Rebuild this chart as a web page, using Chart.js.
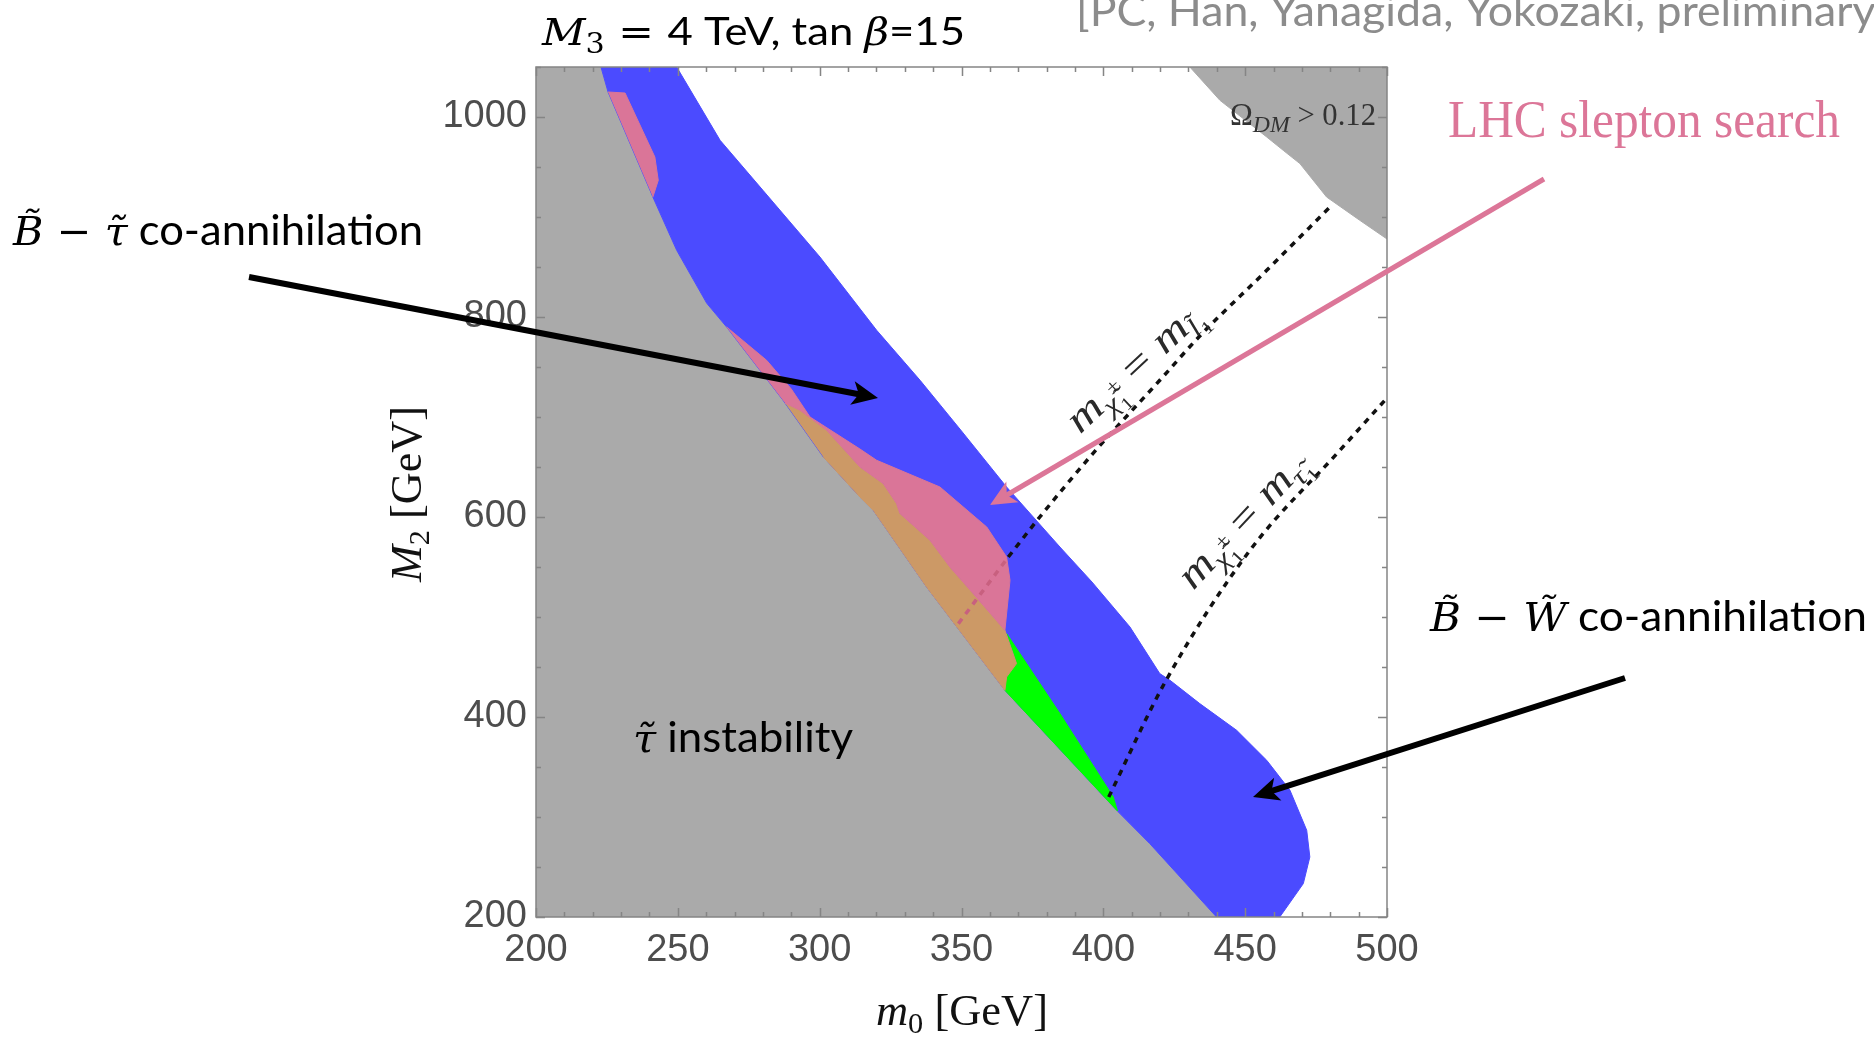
<!DOCTYPE html>
<html>
<head>
<meta charset="utf-8">
<script src="https://cdn.jsdelivr.net/npm/chart.js@4.4.0/dist/chart.umd.min.js"></script>
<style>
html,body{margin:0;padding:0;background:#fff;overflow:hidden}
#wrap{width:1874px;height:1038px;position:relative;background:#fff}
canvas{display:block}
</style>
</head>
<body>
<div id="wrap"><canvas id="c" width="1874" height="1038"></canvas></div>
<script>
// ---------------- data (GeV) ----------------
const m0Range = [200, 500];
const M2Range = [200, 1050];
const xTickLabels = [200, 250, 300, 350, 400, 450, 500];
const yTickLabels = [200, 400, 600, 800, 1000];

// edge of the stau-instability region (m0, M2), top to bottom
const stauBoundary = [[222.9,1050],[225.4,1025],[241.2,920],[249.6,866.7],[260.2,813.7],[267.2,790],[287.1,716.7],[301.3,660],[314.2,620],[318.9,606.7],[337.7,530],[365.3,426.7],[404.7,306.7],[416.4,273.3],[439.9,200]];
// outer edge of the relic-density band (blue), top to bottom
const relicBandEdge = [[249.6,1050],[264.9,976.7],[280,926.7],[300.1,860],[320.1,786.7],[335.4,736.7],[350,686],[365.9,630],[384.7,570],[396,535],[409.4,490],[419.9,443.4],[423.5,436.7],[434,413.4],[447,386.7],[457.6,356.7],[465.8,326.7],[471.7,286.7],[472.8,260],[470.5,233.4],[462.2,200]];
// Omega_DM > 0.12 region (top right)
const overabundant = [[430.5,1050],[441.1,1016.7],[457.6,980],[463.4,966.7],[469.3,953.4],[478.7,920],[490.4,896.7],[500,878],[500,1050]];
// LHC slepton search exclusion (pink)
const lhcUpper = [[225.4,1025],[231.4,1024],[241.9,960],[243.1,936.7],[241.2,920]];
const lhcLower = [[267.2,790],[281.3,756.7],[290,728],[296.6,700],[314.2,668],[320.1,656.7],[342.4,630],[358.9,590],[365.9,560],[367.1,536.7],[365.3,486.7],[354.1,523.4],[345.9,550],[338.9,576.7],[328.3,603.4],[327.1,613.4],[322.4,633.4],[314.2,650],[302.5,686.7],[293.1,706.7],[287.8,714]];
// orange region
const orangeRegion = [[287.8,714],[293.1,706.7],[302.5,686.7],[314.2,650],[322.4,633.4],[327.1,613.4],[328.3,603.4],[338.9,576.7],[345.9,550],[354.1,523.4],[365.3,486.7],[369.4,453.4],[365.9,440],[365.3,426.7],[337.7,530],[318.9,606.7],[314.2,620],[301.3,660]];
// green region
const greenRegion = [[365.9,483.4],[384.7,403.4],[403.5,320],[405,306],[365.3,426.7],[365.9,440],[369.4,453.4]];
// m_chargino = m_slepton line
const lineSleptonInside = [[348.9,493.4],[366.5,560]];
const lineSlepton = [[366.5,560],[377.6,600],[396.3,663.4],[419.9,736.7],[434,781],[457.6,846.7],[479.9,910]];
// m_chargino = m_stau line
const lineStau = [[401.9,320],[421.8,435],[451.7,566.7],[483.4,666.7],[499.5,717.5]];

// ---------------- styles ----------------
const C = {gray:'#aaaaaa', blue:'#4b4bff', pink:'#da7598', orange:'#cc9966', green:'#00ff00', pinkText:'#dc7698'};

const toXY = a => a.map(p => ({x:p[0], y:p[1]}));
const poly = (pts, color, order) => ({data: toXY(pts), showLine:true, fill:'shape', backgroundColor:color, borderColor:color, borderWidth:1, pointRadius:0, tension:0, order});
const dashed = (pts, color, order) => ({data: toXY(pts), showLine:true, fill:false, borderColor:color, borderWidth:3.5, borderDash:[6,6], pointRadius:0, cubicInterpolationMode:'monotone', order});

const grayPoly = [[m0Range[0], M2Range[1]], ...stauBoundary, [m0Range[0], M2Range[0]]];
const bluePoly = [...relicBandEdge, ...stauBoundary.slice().reverse()];

// ---------------- rich text helper ----------------
function layoutRuns(ctx, runs){
  let x = 0, stackW = 0; const items = [];
  for (const r of runs){
    ctx.font = r.f; const w = ctx.measureText(r.t).width;
    items.push({r, x});
    if (r.keep) stackW = Math.max(stackW, w);
    else { x += Math.max(w, stackW); stackW = 0; }
  }
  return {items, width:x};
}
function drawRich(ctx, runs, x, y, o){
  o = o || {};
  const L = layoutRuns(ctx, runs);
  const sx = o.width ? o.width / L.width : 1;
  ctx.save();
  ctx.translate(x, y);
  if (o.angle) ctx.rotate(o.angle);
  if (o.align === 'center') ctx.translate(-L.width*sx/2, 0);
  ctx.scale(sx, 1);
  ctx.textBaseline = 'alphabetic'; ctx.textAlign = 'left';
  for (const it of L.items){
    ctx.font = it.r.f; ctx.fillStyle = it.r.c || o.color || '#000';
    ctx.fillText(it.r.t, it.x, it.r.dy || 0);
  }
  ctx.restore();
}
function arrow(ctx, x1, y1, x2, y2, color, lw, hl, hw){
  const a = Math.atan2(y2-y1, x2-x1), ca = Math.cos(a), sa = Math.sin(a);
  const bx = x2 - hl*ca, by = y2 - hl*sa;
  ctx.save();
  ctx.strokeStyle = color; ctx.fillStyle = color; ctx.lineWidth = lw; ctx.lineCap = 'butt';
  ctx.beginPath(); ctx.moveTo(x1, y1); ctx.lineTo(bx + 0.3*hl*ca, by + 0.3*hl*sa); ctx.stroke();
  ctx.beginPath(); ctx.moveTo(x2, y2);
  ctx.lineTo(bx - hw*sa, by + hw*ca);
  ctx.lineTo(bx + 0.25*hl*ca, by + 0.25*hl*sa);
  ctx.lineTo(bx + hw*sa, by - hw*ca);
  ctx.closePath(); ctx.fill();
  ctx.restore();
}

const SERIF = '"DejaVu Serif"', TIMES = '"Liberation Serif"', SANS = 'Lato';

const framePlugin = {
  id: 'frame',
  afterDatasetsDraw(chart){
    const {ctx, chartArea:a, scales:{x, y}} = chart;
    ctx.save();
    ctx.strokeStyle = '#858585'; ctx.lineWidth = 1.5;
    ctx.strokeRect(a.left, a.top, a.right - a.left, a.bottom - a.top);
    ctx.beginPath();
    for (const t of x.ticks){
      const p = Math.round(x.getPixelForValue(t.value)) + 0.5;
      const len = xTickLabels.includes(t.value) ? 9 : 5;
      ctx.moveTo(p, a.bottom); ctx.lineTo(p, a.bottom - len);
      ctx.moveTo(p, a.top); ctx.lineTo(p, a.top + len);
    }
    for (const t of y.ticks){
      const p = Math.round(y.getPixelForValue(t.value)) + 0.5;
      const len = yTickLabels.includes(t.value) ? 9 : 5;
      ctx.moveTo(a.left, p); ctx.lineTo(a.left + len, p);
      ctx.moveTo(a.right, p); ctx.lineTo(a.right - len, p);
    }
    ctx.stroke();
    ctx.restore();
  }
};

const annotPlugin = {
  id: 'annot',
  afterDraw(chart){
    const ctx = chart.ctx;
    // citation (runs off the top/right edge as in the slide)
    drawRich(ctx, [{t:'[PC, Han, Yanagida, Yokozaki, preliminary]', f:`43px ${SANS}`, c:'#8c8c8c'}], 1076, 26, {width:812});
    // title
    drawRich(ctx, [
      {t:'M', f:`italic 38px ${SERIF}`},
      {t:'3', f:`27px ${SERIF}`, dy:8},
      {t:' = ', f:`38px ${SERIF}`},
      {t:'4 TeV, tan ', f:`39px ${SANS}`},
      {t:'\u03B2', f:`italic 38px ${SERIF}`},
      {t:'=15', f:`39px ${SANS}`}
    ], 542, 45, {width:423});
    // region labels
    drawRich(ctx, [
      {t:'B\u0303', f:`italic 40px ${SERIF}`},
      {t:' \u2212 ', f:`40px ${SERIF}`},
      {t:'\u03C4\u0303', f:`italic 40px ${SERIF}`},
      {t:' co-annihilation', f:`42px ${SANS}`}
    ], 13, 245, {width:410});
    drawRich(ctx, [
      {t:'\u03C4\u0303', f:`italic 40px ${SERIF}`},
      {t:' instability', f:`42px ${SANS}`}
    ], 633, 752, {width:220});
    drawRich(ctx, [
      {t:'B\u0303', f:`italic 40px ${SERIF}`},
      {t:' \u2212 ', f:`40px ${SERIF}`},
      {t:'W\u0303', f:`italic 40px ${SERIF}`},
      {t:' co-annihilation', f:`42px ${SANS}`}
    ], 1430, 631, {width:437});
    drawRich(ctx, [{t:'LHC slepton search', f:`52px ${TIMES}`, c:C.pinkText}], 1448, 137, {width:392});
    // Omega label
    drawRich(ctx, [
      {t:'\u03A9', f:`31px ${TIMES}`},
      {t:'DM', f:`italic 24px ${TIMES}`, dy:7},
      {t:' > 0.12', f:`31px ${TIMES}`}
    ], 1230, 125, {width:146, color:'#333'});
    // line labels
    const lineLabel = sub => [
      {t:'m', f:`italic 40px ${TIMES}`},
      {t:'\u03C7\u0303', f:`italic 26px ${TIMES}`, dy:8},
      {t:'\u00B1', f:`19px ${TIMES}`, dy:-7, keep:true},
      {t:'1', f:`18px ${TIMES}`, dy:15},
      {t:' = ', f:`40px ${TIMES}`},
      {t:'m', f:`italic 40px ${TIMES}`},
      {t:sub, f:`italic 26px ${TIMES}`, dy:8},
      {t:'1', f:`18px ${TIMES}`, dy:14}
    ];
    drawRich(ctx, lineLabel('l\u0303'), 1143, 376, {angle:-43*Math.PI/180, align:'center', width:172, color:'#2a2a2a'});
    drawRich(ctx, lineLabel('\u03C4\u0303'), 1252, 528, {angle:-47*Math.PI/180, align:'center', width:172, color:'#2a2a2a'});
    // axis titles
    drawRich(ctx, [
      {t:'m', f:`italic 44px ${TIMES}`},
      {t:'0', f:`30px ${TIMES}`, dy:8},
      {t:' [GeV]', f:`44px ${TIMES}`}
    ], 876, 1025, {width:172, color:'#111'});
    drawRich(ctx, [
      {t:'M', f:`italic 44px ${TIMES}`},
      {t:'2', f:`30px ${TIMES}`, dy:8},
      {t:' [GeV]', f:`44px ${TIMES}`}
    ], 421, 582, {angle:-Math.PI/2, width:176, color:'#111'});
    // arrows
    arrow(ctx, 249, 277, 878, 398, '#000', 6, 26, 12);
    arrow(ctx, 1544, 179, 990, 505, C.pinkText, 5, 26, 12);
    arrow(ctx, 1625, 678, 1253, 797, '#000', 6, 26, 12);
  }
};

new Chart(document.getElementById('c'), {
  type: 'scatter',
  data: {
    datasets: [
      dashed(lineSleptonInside, '#c8607f', 5),
      dashed(lineSlepton, '#111', 5),
      dashed(lineStau, '#111', 5),
      poly(lhcUpper, C.pink, 8),
      poly(lhcLower, C.pink, 8),
      poly(orangeRegion, C.orange, 8),
      poly(greenRegion, C.green, 8),
      poly(overabundant, C.gray, 9),
      poly(bluePoly, C.blue, 9),
      poly(grayPoly, C.gray, 10)
    ]
  },
  options: {
    responsive: false,
    animation: false,
    devicePixelRatio: 1,
    events: [],
    layout: {padding: {left: 0, right: 487, top: 67, bottom: 0}},
    plugins: {legend: {display: false}, tooltip: {enabled: false}},
    scales: {
      x: {
        type: 'linear', min: m0Range[0], max: m0Range[1],
        grid: {display: false, drawTicks: false}, border: {display: false},
        ticks: {stepSize: 10, autoSkip: false, maxRotation: 0, minRotation: 0, padding: 11,
          color: '#4d4d4d', font: {family: 'Liberation Sans', size: 38},
          callback: v => xTickLabels.includes(v) ? String(v) : ''},
        afterFit: s => { s.height = 121; }
      },
      y: {
        type: 'linear', min: M2Range[0], max: M2Range[1],
        grid: {display: false, drawTicks: false}, border: {display: false},
        ticks: {stepSize: 50, autoSkip: false, padding: 9,
          color: '#4d4d4d', font: {family: 'Liberation Sans', size: 38},
          callback: v => yTickLabels.includes(v) ? String(v) : ''},
        afterFit: s => { s.width = 536; }
      }
    }
  },
  plugins: [framePlugin, annotPlugin]
});
</script>
</body>
</html>
